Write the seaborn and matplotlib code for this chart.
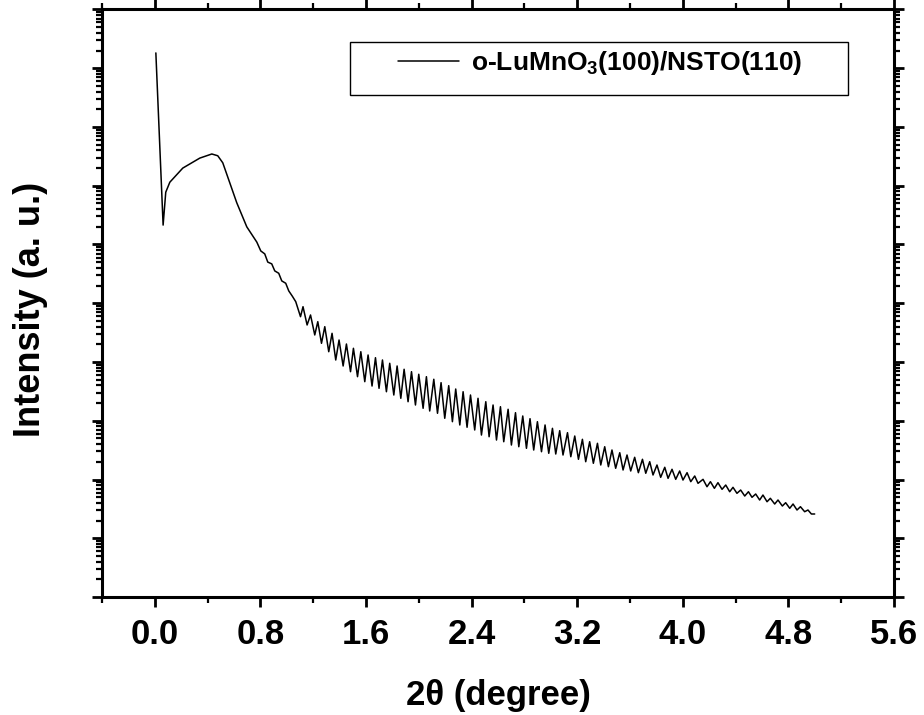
import numpy as np
import pandas as pd
import seaborn as sns
import matplotlib
matplotlib.use("Agg")
import matplotlib.pyplot as plt
from matplotlib.ticker import LogLocator, MultipleLocator, NullFormatter
from matplotlib.patches import Rectangle

# ---- data (2theta in degree, log10 of intensity in a.u.) ----
two_theta_start = [0.008, 0.063, 0.083, 0.114, 0.212, 0.341, 0.432, 0.477, 0.515, 0.568,
                   0.621, 0.697, 0.773, 0.803, 0.833, 0.856, 0.886, 0.909, 0.939, 0.962,
                   0.992, 1.015, 1.042]
log_int_start = [9.26, 6.33, 6.89, 7.06, 7.30, 7.47, 7.54, 7.51, 7.39, 7.05,
                 6.71, 6.30, 6.04, 5.89, 5.84, 5.70, 5.67, 5.55, 5.51, 5.38,
                 5.34, 5.21, 5.12]

# Kiessig fringes: alternating maxima / minima
two_theta_fringes = [
    1.068, 1.104, 1.123, 1.154, 1.180, 1.212, 1.235, 1.263, 1.288, 1.318,
    1.343, 1.371, 1.396, 1.427, 1.452, 1.483, 1.505, 1.536, 1.561, 1.591,
    1.616, 1.646, 1.672, 1.699, 1.725, 1.755, 1.780, 1.811, 1.836, 1.864,
    1.889, 1.919, 1.945, 1.975, 2.000, 2.033, 2.058, 2.083, 2.114, 2.142,
    2.169, 2.197, 2.227, 2.255, 2.280, 2.311, 2.336, 2.366, 2.392, 2.424,
    2.449, 2.475, 2.508, 2.533, 2.563, 2.589, 2.619, 2.644, 2.677, 2.702,
    2.733, 2.758, 2.788, 2.816, 2.843, 2.871, 2.899, 2.930, 2.957, 2.985,
    3.013, 3.038, 3.068, 3.093, 3.127, 3.152, 3.182, 3.210, 3.240, 3.265,
    3.295, 3.323, 3.354, 3.379, 3.409, 3.437, 3.464, 3.492, 3.523, 3.548,
    3.578, 3.606, 3.636, 3.664, 3.695, 3.720, 3.750, 3.775, 3.805, 3.833,
    3.864, 3.889, 3.919, 3.947, 3.977, 4.002, 4.033, 4.061, 4.091, 4.116,
    4.154, 4.184, 4.210, 4.240, 4.267, 4.298, 4.326, 4.356, 4.381, 4.411,
    4.439, 4.470, 4.498, 4.525, 4.553, 4.583, 4.608, 4.639, 4.664, 4.697,
    4.722, 4.755, 4.780, 4.811, 4.836, 4.866, 4.892, 4.924, 4.949, 4.975,
    5.000]
log_int_fringes = [
    5.026, 4.771, 4.941, 4.630, 4.800, 4.460, 4.686, 4.318, 4.601, 4.175,
    4.488, 4.034, 4.374, 3.932, 4.306, 3.835, 4.233, 3.750, 4.175, 3.665,
    4.119, 3.591, 4.073, 3.552, 4.034, 3.494, 3.978, 3.438, 3.932, 3.382,
    3.876, 3.324, 3.835, 3.268, 3.791, 3.212, 3.750, 3.166, 3.706, 3.127,
    3.648, 3.042, 3.597, 2.984, 3.540, 2.928, 3.494, 2.889, 3.438, 2.843,
    3.382, 2.757, 3.324, 2.728, 3.268, 2.672, 3.239, 2.643, 3.195, 2.587,
    3.137, 2.558, 3.081, 2.531, 3.035, 2.502, 2.984, 2.473, 2.928, 2.446,
    2.871, 2.434, 2.831, 2.417, 2.797, 2.388, 2.740, 2.344, 2.684, 2.303,
    2.643, 2.276, 2.616, 2.247, 2.558, 2.218, 2.502, 2.191, 2.456, 2.162,
    2.417, 2.145, 2.378, 2.116, 2.344, 2.106, 2.303, 2.077, 2.247, 2.037,
    2.208, 2.020, 2.174, 2.003, 2.145, 1.991, 2.116, 1.963, 2.060, 1.935,
    2.003, 1.877, 1.963, 1.850, 1.946, 1.833, 1.906, 1.792, 1.867, 1.765,
    1.821, 1.719, 1.792, 1.697, 1.753, 1.651, 1.736, 1.622, 1.680, 1.583,
    1.651, 1.549, 1.605, 1.510, 1.583, 1.481, 1.537, 1.452, 1.481, 1.413,
    1.413]

series_label = r"o-LuMnO$_3$(100)/NSTO(110)"
x_ticks = [0.0, 0.8, 1.6, 2.4, 3.2, 4.0, 4.8, 5.6]
x_tick_labels = ["0.0", "0.8", "1.6", "2.4", "3.2", "4.0", "4.8", "5.6"]

two_theta = two_theta_start + two_theta_fringes
intensity = [10 ** v for v in (log_int_start + log_int_fringes)]
df = pd.DataFrame({"2theta": two_theta, "Intensity": intensity,
                   "sample": series_label})

# ---- style ----
sns.set_theme(style="ticks")
plt.rcParams["font.family"] = ["Liberation Sans", "DejaVu Sans"]
plt.rcParams["font.weight"] = "bold"
plt.rcParams["mathtext.default"] = "regular"
plt.rcParams["text.color"] = "black"
plt.rcParams["axes.labelcolor"] = "black"
plt.rcParams["xtick.color"] = "black"
plt.rcParams["ytick.color"] = "black"

fig = plt.figure(figsize=(9.24, 7.15), dpi=100)
ax = fig.add_axes([0.1104, 0.165, 0.857, 0.8218])

sns.lineplot(data=df, x="2theta", y="Intensity", hue="sample",
             palette=["black"], estimator=None, sort=False,
             linewidth=1.1, ax=ax, legend=True)

ax.set_yscale("log")
ax.set_xlim(-0.4, 5.6)
ax.set_ylim(1, 1e10)

ax.set_xticks(x_ticks)
ax.set_xticklabels(x_tick_labels)
ax.xaxis.set_minor_locator(MultipleLocator(0.4))
ax.yaxis.set_major_locator(LogLocator(base=10, numticks=20))
ax.yaxis.set_minor_locator(LogLocator(base=10, subs=np.arange(2, 10), numticks=20))
ax.yaxis.set_major_formatter(NullFormatter())
ax.yaxis.set_minor_formatter(NullFormatter())

for s in ax.spines.values():
    s.set_linewidth(2.2)
    s.set_color("black")

ax.tick_params(axis="both", which="major", direction="out", length=7, width=2,
               color="black", labelsize=25, pad=8, labelcolor="black",
               top=True, right=True)
ax.tick_params(axis="both", which="minor", direction="out", length=4, width=1.6,
               color="black", top=True, right=True)
for lab in ax.get_xticklabels():
    lab.set_fontweight("bold")

ax.set_xlabel("2θ (degree)", fontsize=25, fontweight="bold", labelpad=20,
              color="black")
ax.set_ylabel("Intensity (a. u.)", fontsize=26, fontweight="bold", color="black")
ax.yaxis.set_label_coords(-0.068, 0.49)

# legend
leg = ax.legend(loc="center left", bbox_to_anchor=(0.374, 0.909), frameon=False,
                borderpad=0, borderaxespad=0, handlelength=2.3, handletextpad=0.45,
                prop={"size": 19, "weight": "bold"})
for t in leg.get_texts():
    t.set_color("black")
ax.add_patch(Rectangle((0.313, 0.854), 0.629, 0.091, transform=ax.transAxes,
                       fill=False, edgecolor="black", linewidth=1.0, zorder=5))

fig.savefig("out.png", dpi=100, facecolor="white")
